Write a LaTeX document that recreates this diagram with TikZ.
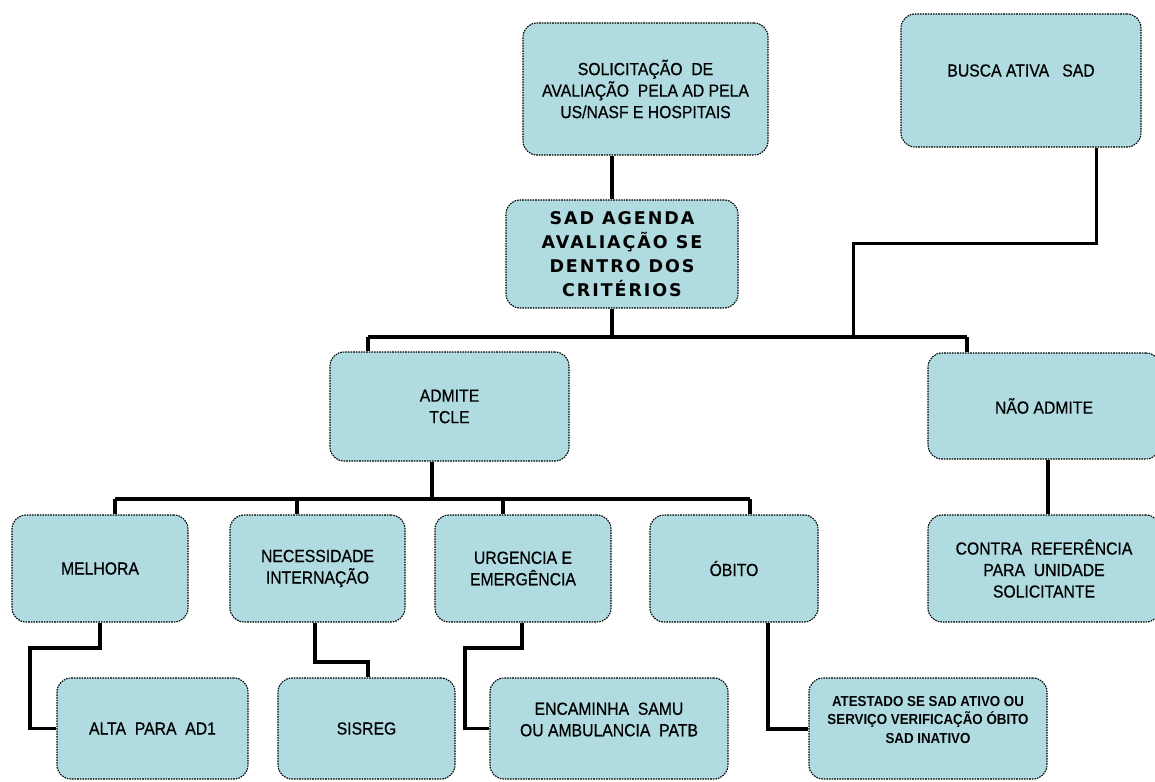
\documentclass[tikz,border=0pt]{standalone}
\usepackage{fontspec}
\setmainfont[FakeStretch=0.9,FakeBold=0.5]{Liberation Sans}
\newfontfamily\sadfont[LetterSpace=11]{DejaVu Sans}
\newfontfamily\atfont[FakeStretch=0.92]{Liberation Sans}
\definecolor{boxfill}{RGB}{176,219,224}
\begin{document}
\begin{tikzpicture}[x=1pt,y=-1pt,
  box/.style={draw=black, line width=1.1pt, dash pattern=on 1.6pt off 1pt,
    fill=boxfill, rounded corners=14pt, inner sep=0pt, align=center,
    font=\fontsize{17.5}{21.5}\selectfont},
  boxtext/.style={inner sep=0pt, align=center, font=\fontsize{17.5}{21.5}\selectfont},
  conn/.style={line width=3.6pt, black},
  thinconn/.style={line width=3pt, black}]
\useasboundingbox (0,0) rectangle (1155,781);
\begin{scope}
\clip (0,0) rectangle (1155,781);
% top row
\node[box, minimum width=245pt, minimum height=132pt] (sol) at (645.5,89)
  {SOLICITAÇÃO\ \ DE\\AVALIAÇÃO\ \ PELA AD PELA\\US/NASF E HOSPITAIS};
\node[box, minimum width=240pt, minimum height=133pt] (busca) at (1021,80.5) {};
\node[boxtext] (buscaT) at ([yshift=10pt]busca.center) {BUSCA ATIVA\ \ \ SAD};
\node[box, minimum width=232pt, minimum height=108pt, font=\sadfont\bfseries\fontsize{17.5}{24}\selectfont] (sad) at (622,254)
  {SAD AGENDA\\AVALIAÇÃO SE\\DENTRO DOS\\CRITÉRIOS};
% second row
\node[box, minimum width=239pt, minimum height=109pt] (admite) at (449.5,406.5)
  {ADMITE\\TCLE};
\node[box, minimum width=232pt, minimum height=106pt] (nao) at (1044,406)
  {NÃO ADMITE};
% third row
\node[box, minimum width=176pt, minimum height=107pt] (melhora) at (100,568.5) {MELHORA};
\node[box, minimum width=175pt, minimum height=107pt] (nec) at (317.5,568.5) {NECESSIDADE\\INTERNAÇÃO};
\node[box, minimum width=176pt, minimum height=107pt] (urg) at (523,568.5) {URGENCIA E\\EMERGÊNCIA};
\node[box, minimum width=168pt, minimum height=107pt] (obito) at (734,568.5) {ÓBITO};
\node[box, minimum width=232pt, minimum height=107pt] (contra) at (1044,568.5)
  {CONTRA\ \ REFERÊNCIA\\PARA\ \ UNIDADE\\SOLICITANTE};
% bottom row
\node[box, minimum width=191pt, minimum height=101pt] (alta) at (152.5,728.5) {ALTA\ \ PARA\ \ AD1};
\node[box, minimum width=177pt, minimum height=101pt] (sisreg) at (366.5,728.5) {SISREG};
\node[box, minimum width=238pt, minimum height=101pt] (enc) at (609,728.5) {};
\node[boxtext] (encT) at ([yshift=9pt]enc.center) {ENCAMINHA\ \ SAMU\\OU AMBULANCIA\ \ PATB};
\node[box, minimum width=238pt, minimum height=101pt] (atest) at (928,728.5) {};
\node[boxtext, font=\atfont\bfseries\fontsize{14.5}{18.5}\selectfont] (atestT) at ([yshift=9pt]atest.center)
  {ATESTADO SE SAD ATIVO OU\\SERVIÇO VERIFICAÇÃO ÓBITO\\SAD INATIVO};
\end{scope}
% junction coordinates
\coordinate (hA) at (368,337);
\coordinate (hB) at (967,337);
\coordinate (bA) at (853,243);
\coordinate (bB) at (1096,243);
\coordinate (hC) at (115,499);
\coordinate (hD) at (750,499);
\coordinate (m1) at (100,648);
\coordinate (m2) at (30,648);
\coordinate (n1) at (315,662);
\coordinate (n2) at (368,662);
\coordinate (u1) at (522,648);
\coordinate (u2) at (465,648);
\coordinate (o1) at (768,729);
% connectors
\draw[conn] ([xshift=-33.5pt]sol.south) -- ([xshift=-10pt]sad.north);
\draw[conn] ([xshift=-10pt]sad.south) -- ([xshift=-10pt]sad.south |- hA);
\draw[conn] (hA) -- (hB);
\draw[conn] (hA) -- (hA |- admite.north);
\draw[conn] (hB) -- (hB |- nao.north);
\draw[thinconn] (bB |- busca.south) -- (bB) -- (bA) -- (bA |- hA);
\draw[conn] (admite.south -| 432,0) -- (432,499);
\draw[conn] (hC) -- (hD);
\draw[conn] (hC) -- (hC |- melhora.north);
\draw[conn] (297,499) -- (nec.north -| 297,0);
\draw[conn] (503,499) -- (urg.north -| 503,0);
\draw[conn] (hD) -- (hD |- obito.north);
\draw[conn] (m1 |- melhora.south) -- (m1) -- (m2) -- (m2 |- alta.west) -- (alta.west);
\draw[conn] (n1 |- nec.south) -- (n1) -- (n2) -- (n2 |- sisreg.north);
\draw[conn] (u1 |- urg.south) -- (u1) -- (u2) -- (u2 |- enc.west) -- (enc.west);
\draw[conn] (o1 |- obito.south) -- (o1) -- (o1 -| atest.west);
\draw[conn] (nao.south -| 1048,0) -- (contra.north -| 1048,0);
\end{tikzpicture}
\end{document}
